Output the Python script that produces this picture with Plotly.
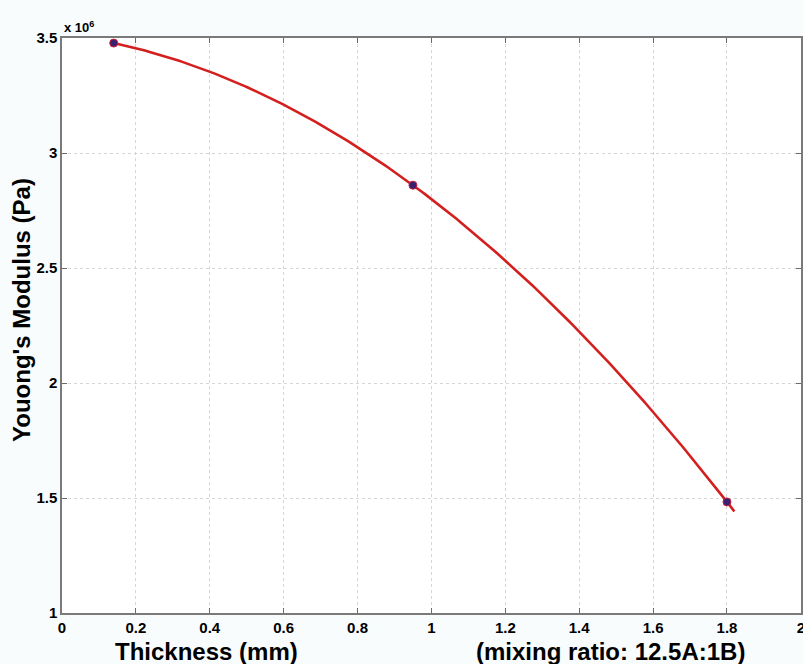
import numpy as np
import plotly.graph_objects as go

# Data
thickness_mm = [0.14, 0.95, 1.80]
modulus_1e6_pa = [3.478, 2.86, 1.483]

x_tick_vals = [0, 0.2, 0.4, 0.6, 0.8, 1.0, 1.2, 1.4, 1.6, 1.8, 2.0]
x_tick_text = ["0", "0.2", "0.4", "0.6", "0.8", "1", "1.2", "1.4", "1.6", "1.8", "2"]
y_tick_vals = [1, 1.5, 2, 2.5, 3, 3.5]
y_tick_text = ["1", "1.5", "2", "2.5", "3", "3.5"]

# Quadratic fit curve through the measured points (as in the original figure)
coef = np.polyfit(thickness_mm, modulus_1e6_pa, 2)
fit_x = np.linspace(min(thickness_mm), 1.82, 200)
fit_y = np.polyval(coef, fit_x)

fig = go.Figure()
fig.add_trace(go.Scatter(
    x=fit_x, y=fit_y, mode="lines",
    line=dict(color="#d41f1f", width=2.6),
    hoverinfo="skip", showlegend=False,
))
fig.add_trace(go.Scatter(
    x=thickness_mm, y=modulus_1e6_pa, mode="markers",
    marker=dict(size=8, color="#3a2070", line=dict(color="#c8203a", width=1)),
    showlegend=False,
))

tick_font = dict(family="Liberation Sans, Arial, sans-serif", size=15,
                 color="#000000", weight="bold")

fig.update_xaxes(
    range=[0, 2.0004], tickvals=x_tick_vals, ticktext=x_tick_text,
    showline=True, linecolor="#7a7a7a", linewidth=1.5, mirror="allticks",
    ticks="inside", ticklen=5, tickcolor="#6a6a6a", tickwidth=1,
    showgrid=True, gridcolor="#d6d6d6", gridwidth=1, griddash="dot",
    zeroline=False, tickfont=tick_font, ticklabeloverflow="allow",
)
fig.update_yaxes(
    range=[1, 3.5], tickvals=y_tick_vals, ticktext=y_tick_text,
    showline=True, linecolor="#7a7a7a", linewidth=1.5, mirror="allticks",
    ticks="inside", ticklen=5, tickcolor="#6a6a6a", tickwidth=1,
    showgrid=True, gridcolor="#d6d6d6", gridwidth=1, griddash="dot",
    zeroline=False, tickfont=tick_font, ticklabeloverflow="allow",
)

bold = dict(family="Liberation Sans, Arial, sans-serif", color="#000000")

fig.update_layout(
    width=803, height=664,
    margin=dict(l=62, r=2, t=38, b=51, autoexpand=False),
    paper_bgcolor="#f9fcfc", plot_bgcolor="#ffffff",
    font=dict(family="Liberation Sans, Arial, sans-serif"),
    annotations=[
        dict(text="<b>x 10<sup>6</sup></b>", xref="paper", yref="paper",
             x=0.0, y=1.0, xanchor="left", yanchor="bottom", yshift=1, xshift=0,
             showarrow=False, font=dict(size=13, **bold)),
        dict(text="<b>Youong's Modulus (Pa)</b>", xref="paper", yref="paper",
             x=0, y=0.527, xshift=-40, xanchor="center", yanchor="middle",
             textangle=-90, showarrow=False, font=dict(size=24, **bold)),
        dict(text="<b>Thickness (mm)</b>", xref="paper", yref="paper",
             x=0.196, y=0, yshift=-38, xanchor="center", yanchor="middle",
             showarrow=False, font=dict(size=24, **bold)),
        dict(text="<b>(mixing ratio: 12.5A:1B)</b>", xref="paper", yref="paper",
             x=0.742, y=0, yshift=-38, xanchor="center", yanchor="middle",
             showarrow=False, font=dict(size=24, **bold)),
    ],
)

fig.write_html(
    "out.html",
    config={"displayModeBar": False},
    post_script="document.body.style.margin='0';document.body.style.overflow='hidden';",
)
